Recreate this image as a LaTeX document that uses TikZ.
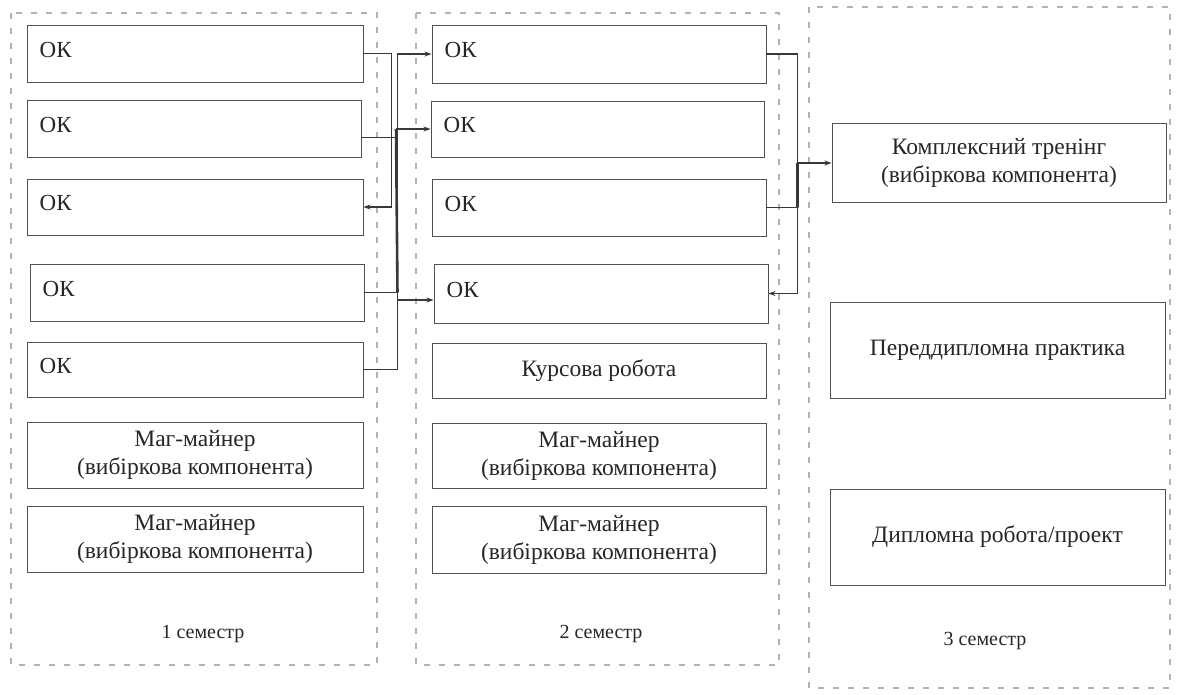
\documentclass[tikz,border=0pt]{standalone}
\usepackage{fontspec}
\setmainfont{Liberation Serif}
\usetikzlibrary{arrows.meta,calc}
\begin{document}
\begin{tikzpicture}[x=1pt,y=-1pt,
  frame/.style={draw=black!30, line width=1.1pt, dash pattern=on 6pt off 9pt},
  box/.style={draw=black!68, line width=0.95pt, inner sep=0pt, rectangle,
    font=\fontsize{23.5}{28}\selectfont, align=center, text=black!85},
  oktext/.style={anchor=west, inner sep=0pt, text=black!85, font=\fontsize{23}{28}\selectfont},
  semlabel/.style={inner sep=0pt, text=black!85, font=\fontsize{20}{24}\selectfont},
  conn/.style={draw=black!78, line width=1.1pt},
  thick bus/.style={draw=black!78, line width=2.6pt},
  tip/.style={-{Stealth[length=7pt,width=5pt]}},
  revtip/.style={{Stealth[length=7pt,width=5pt]}-}
]
\useasboundingbox (0,0) rectangle (1177,694);

% semester frames
\draw[frame] (11,13) rectangle (377,665);
\draw[frame] (416,13) rectangle (779,665);
\draw[frame] (809,7) rectangle (1170,688);

% semester 1
\node[box, minimum width=336pt, minimum height=57pt] (s1ok1) at (195,53.5) {};
\node[box, minimum width=334pt, minimum height=57pt] (s1ok2) at (194,128.5) {};
\node[box, minimum width=336pt, minimum height=56pt] (s1ok3) at (195,207) {};
\node[box, minimum width=334pt, minimum height=57pt] (s1ok4) at (197,292.5) {};
\node[box, minimum width=336pt, minimum height=55pt] (s1ok5) at (195,369.5) {};
\node[box, minimum width=336pt, minimum height=66pt] (s1m1) at (195,455) {Маг-майнер\\(вибіркова компонента)};
\node[box, minimum width=336pt, minimum height=66pt] (s1m2) at (195,539) {Маг-майнер\\(вибіркова компонента)};
\node[oktext] (t1ok1) at ($(s1ok1.west)+(13,-4)$) {ОК};
\node[oktext] (t1ok2) at ($(s1ok2.west)+(13,-4)$) {ОК};
\node[oktext] (t1ok3) at ($(s1ok3.west)+(13,-4)$) {ОК};
\node[oktext] (t1ok4) at ($(s1ok4.west)+(13,-4)$) {ОК};
\node[oktext] (t1ok5) at ($(s1ok5.west)+(13,-4)$) {ОК};
\node[semlabel] (sem1) at (203,634) {1 семестр};

% semester 2
\node[box, minimum width=334pt, minimum height=58pt] (s2ok1) at (599,54) {};
\node[box, minimum width=333pt, minimum height=56pt] (s2ok2) at (597.5,129) {};
\node[box, minimum width=334pt, minimum height=57pt] (s2ok3) at (599,207.5) {};
\node[box, minimum width=334pt, minimum height=59pt] (s2ok4) at (601,293.5) {};
\node[box, minimum width=334pt, minimum height=55pt] (s2kr) at (599,370.5) {Курсова робота};
\node[box, minimum width=334pt, minimum height=65pt] (s2m1) at (599,455.5) {Маг-майнер\\(вибіркова компонента)};
\node[box, minimum width=334pt, minimum height=67pt] (s2m2) at (599,539.5) {Маг-майнер\\(вибіркова компонента)};
\node[oktext] (t2ok1) at ($(s2ok1.west)+(13,-4)$) {ОК};
\node[oktext] (t2ok2) at ($(s2ok2.west)+(13,-4)$) {ОК};
\node[oktext] (t2ok3) at ($(s2ok3.west)+(13,-4)$) {ОК};
\node[oktext] (t2ok4) at ($(s2ok4.west)+(13,-4)$) {ОК};
\node[semlabel] (sem2) at (601,634) {2 семестр};

% semester 3
\node[box, minimum width=334pt, minimum height=79pt] (komp) at (999,163) {Комплексний тренінг\\(вибіркова компонента)};
\node[box, minimum width=335pt, minimum height=96pt] (pered) at (997.5,350) {Переддипломна практика};
\node[box, minimum width=335pt, minimum height=96pt] (dypl) at (997.5,537) {Дипломна робота/проект};
\node[semlabel] (sem3) at (985,641) {3 семестр};

% left connectors
\draw[conn, tip] (s1ok1.east) -- ++(28,0) |- (s1ok3.east);
\draw[conn, tip] (s1ok5.east) -- ++(34,0) |- (s2ok1.west);
\draw[conn] ($(s1ok2.east)+(0,9)$) -- ++(36,0);
\draw[conn] (s1ok4.east) -- ++(33,0);
\draw[conn, revtip] (s2ok2.west) -- ++(-34.5,0) coordinate (bt);
\draw[conn, revtip] ($(s2ok4.west)+(0,6.5)$) -- ++(-37,0);
\draw[thick bus] (bt) -- ($(s1ok4.east)+(33,0)$);

% right connectors
\draw[conn, tip] (s2ok1.east) -- ++(31,0) |- (s2ok4.east);
\draw[conn] (s2ok3.east) -- ++(31,0) coordinate (rb);
\draw[conn, revtip] (komp.west) -- ++(-34,0) coordinate (rt);
\draw[thick bus] (rt) -- (rb);
\end{tikzpicture}
\end{document}
